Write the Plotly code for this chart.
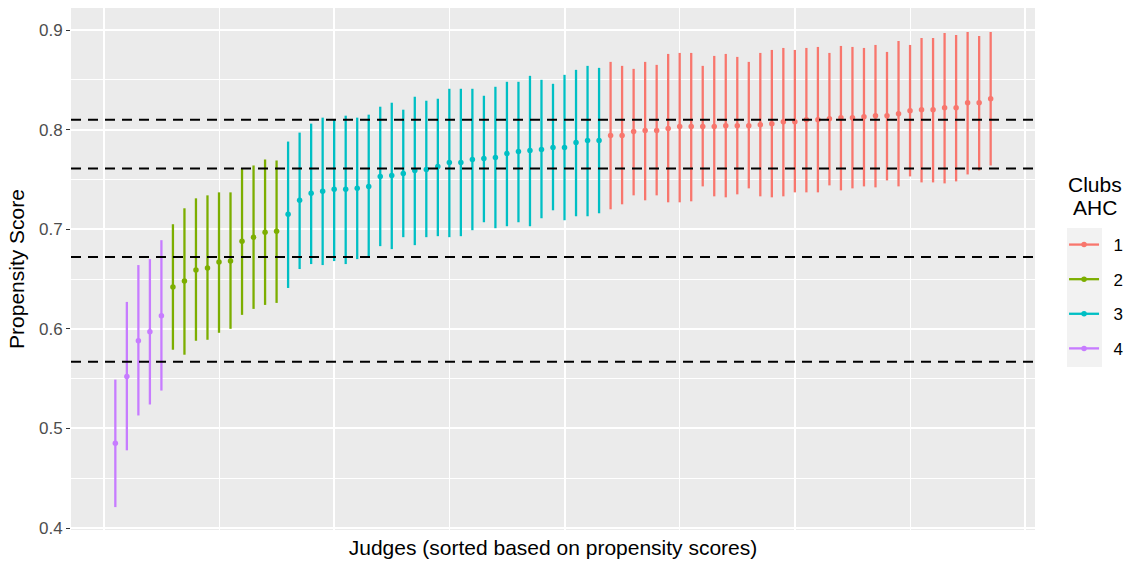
import plotly.graph_objects as go
import numpy as np

# Clusters (Clubs AHC), judges sorted by propensity score
clubs = ["1", "2", "3", "4"]
colores = ["#F8766D", "#7CAE00", "#00BFC4", "#C77CFF"]

# club 4
y4 = [0.485, 0.552, 0.588, 0.597, 0.613]
lo4 = [0.421, 0.478, 0.513, 0.524, 0.538]
hi4 = [0.549, 0.627, 0.664, 0.670, 0.689]

# club 2
y2 = [0.642, 0.648, 0.659, 0.661, 0.667, 0.668, 0.688, 0.692, 0.697, 0.698]
lo2 = [0.579, 0.574, 0.588, 0.589, 0.596, 0.600, 0.614, 0.620, 0.624, 0.626]
hi2 = [0.705, 0.721, 0.731, 0.734, 0.737, 0.737, 0.761, 0.764, 0.770, 0.769]

# club 3
y3 = [0.715, 0.729, 0.736, 0.738, 0.740, 0.740, 0.741, 0.743, 0.753, 0.754,
      0.756, 0.759, 0.760, 0.763, 0.767, 0.767, 0.770, 0.771, 0.772, 0.776,
      0.778, 0.779, 0.780, 0.782, 0.782, 0.787, 0.789, 0.789]
lo3 = [0.641, 0.660, 0.665, 0.664, 0.668, 0.665, 0.670, 0.672, 0.683, 0.680,
       0.692, 0.684, 0.692, 0.693, 0.692, 0.693, 0.699, 0.707, 0.701, 0.703,
       0.707, 0.703, 0.711, 0.719, 0.709, 0.713, 0.713, 0.716]
hi3 = [0.788, 0.797, 0.806, 0.812, 0.810, 0.814, 0.812, 0.815, 0.823, 0.827,
       0.820, 0.833, 0.829, 0.831, 0.841, 0.841, 0.841, 0.834, 0.843, 0.848,
       0.848, 0.854, 0.850, 0.846, 0.855, 0.860, 0.864, 0.862]

# club 1
y1 = [0.794, 0.794, 0.798, 0.799, 0.799, 0.801, 0.803, 0.803, 0.803, 0.803,
      0.804, 0.804, 0.804, 0.805, 0.806, 0.808, 0.808, 0.810, 0.810, 0.811,
      0.812, 0.812, 0.813, 0.814, 0.814, 0.816, 0.819, 0.820, 0.820, 0.822,
      0.822, 0.827, 0.827, 0.831]
lo1 = [0.720, 0.725, 0.734, 0.729, 0.734, 0.727, 0.727, 0.728, 0.743, 0.733,
       0.732, 0.735, 0.741, 0.733, 0.732, 0.733, 0.737, 0.737, 0.737, 0.744,
       0.739, 0.741, 0.743, 0.742, 0.749, 0.743, 0.753, 0.747, 0.747, 0.746,
       0.748, 0.755, 0.759, 0.764]
hi1 = [0.868, 0.864, 0.861, 0.868, 0.865, 0.876, 0.877, 0.877, 0.864, 0.874,
       0.876, 0.873, 0.868, 0.877, 0.880, 0.882, 0.880, 0.882, 0.883, 0.877,
       0.884, 0.883, 0.882, 0.885, 0.878, 0.889, 0.885, 0.892, 0.892, 0.897,
       0.895, 0.898, 0.894, 0.898]

# Cortes entre clubs (lineas discontinuas)
cortes = [0.810, 0.761, 0.672, 0.567]

# orden en el eje x: club 4, 2, 3, 1
orden = [(y4, lo4, hi4, 3), (y2, lo2, hi2, 1), (y3, lo3, hi3, 2), (y1, lo1, hi1, 0)]

fig = go.Figure()

inicio = 1
for yy, lo, hi, k in orden:
    yy = np.array(yy)
    lo = np.array(lo)
    hi = np.array(hi)
    x = np.arange(inicio, inicio + len(yy))
    inicio += len(yy)
    fig.add_trace(go.Scatter(
        x=x, y=yy, mode="markers",
        marker=dict(color=colores[k], size=5.5),
        error_y=dict(type="data", symmetric=False, array=hi - yy, arrayminus=yy - lo,
                     color=colores[k], thickness=2.3, width=0),
        showlegend=False, hoverinfo="skip"
    ))

# entradas de la leyenda (linea + punto como en ggplot)
for k, club in enumerate(clubs):
    fig.add_trace(go.Scatter(
        x=[None], y=[None], mode="lines+markers", name="\u00a0\u00a0" + club,
        line=dict(color=colores[k], width=2.3),
        marker=dict(color=colores[k], size=5.5),
        legendgroup=club
    ))

# lineas horizontales de corte
for c in cortes:
    fig.add_shape(type="line", xref="paper", x0=0, x1=1, yref="y", y0=c, y1=c,
                  line=dict(color="black", width=2, dash="10px,7px"), layer="above")

# fondo gris de las claves de la leyenda
fig.add_shape(type="rect", xref="paper", yref="paper", x0=1.0332, x1=1.0695,
              y0=0.3123, y1=0.5785, fillcolor="#F2F2F2", line=dict(width=0), layer="below")

# titulo de la leyenda (centrado, dos lineas)
fig.add_annotation(text="Clubs", xref="paper", yref="paper", x=1.0622, y=0.6628,
                   xanchor="center", yanchor="middle", showarrow=False, font=dict(size=21))
fig.add_annotation(text="AHC", xref="paper", yref="paper", x=1.0622, y=0.6174,
                   xanchor="center", yanchor="middle", showarrow=False, font=dict(size=21))

fig.update_layout(
    width=1128, height=565,
    margin=dict(l=71, r=93, t=8, b=35),
    paper_bgcolor="white", plot_bgcolor="#EBEBEB",
    font=dict(family="Liberation Sans, Arial, sans-serif", color="black"),
    legend=dict(
        xref="container", x=0.9433, xanchor="left", y=0.5804, yanchor="top",
        font=dict(size=17), bgcolor="rgba(0,0,0,0)",
        tracegroupgap=9.5, itemwidth=30
    ),
    xaxis=dict(
        range=[-2.85, 80.85], showticklabels=False, ticks="", zeroline=False,
        tickvals=[0, 20, 40, 60, 80], gridcolor="white", gridwidth=1.8, automargin=False,
        minor=dict(tickvals=[10, 30, 50, 70], showgrid=True, gridcolor="white", gridwidth=0.9),
        title=dict(text="Judges (sorted based on propensity scores)", font=dict(size=21), standoff=10)
    ),
    yaxis=dict(
        range=[0.398, 0.9221], tickvals=[0.4, 0.5, 0.6, 0.7, 0.8, 0.9],
        ticktext=["0.4", "0.5", "0.6", "0.7", "0.8", "0.9"],
        ticks="outside", ticklen=4, tickcolor="#333333", tickwidth=1.2,
        tickfont=dict(size=17, color="#4D4D4D"), zeroline=False, automargin=False,
        gridcolor="white", gridwidth=1.8,
        minor=dict(tickvals=[0.45, 0.55, 0.65, 0.75, 0.85], showgrid=True, gridcolor="white", gridwidth=0.9),
        title=dict(text="Propensity Score", font=dict(size=21), standoff=8)
    )
)

# quitar el margen de 8px de la pagina para que la figura ocupe toda la ventana
fig.write_html("out.html", config={"displayModeBar": False},
               post_script="document.body.style.margin='0';document.body.style.overflow='hidden';")
